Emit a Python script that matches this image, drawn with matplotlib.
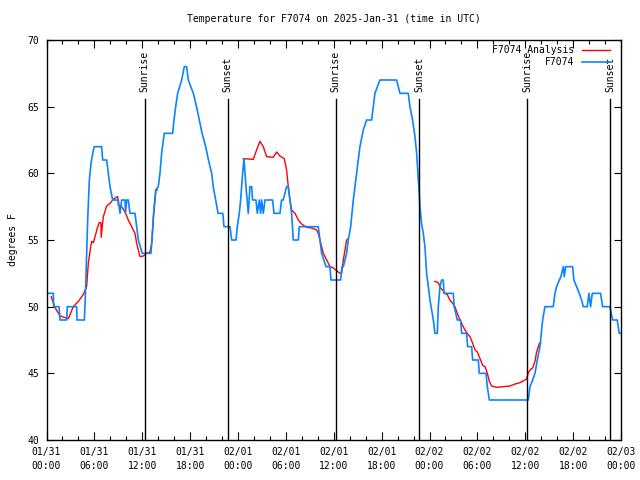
import matplotlib
matplotlib.use("Agg")
import matplotlib.pyplot as plt

plt.rcParams['font.family'] = ['DejaVu Sans Mono']
plt.rcParams['font.size'] = 7

# hours since 2025-01-31 00:00 UTC
obs_hours = [0.0, 0.86, 0.9, 1.57, 1.7, 2.53, 2.61, 3.78, 3.82, 4.74, 4.82, 4.91, 5.16, 5.37,
             5.58, 5.79, 5.99, 6.91, 7.04, 7.54, 7.75, 7.96, 8.29, 9.0, 9.21, 9.42, 9.84, 9.9,
             10.05, 10.25, 10.46, 11.09, 11.3, 11.51, 12.0, 13.09, 13.22, 13.39, 13.68, 14.01,
             14.22, 14.43, 14.76, 15.81, 15.98, 16.19, 16.44, 16.94, 17.27, 17.56, 17.77, 18.4,
             18.8, 19.15, 19.5, 19.95, 20.3, 20.7, 20.9, 21.2, 21.5, 22.1, 22.24, 23.0, 23.2,
             23.75, 23.91, 24.16, 24.33, 24.58, 24.75, 25.0, 25.29, 25.5, 25.71, 25.83, 26.25,
             26.42, 26.67, 26.84, 26.96, 27.17, 27.38, 28.34, 28.51, 29.26, 29.46, 29.67, 30.09,
             30.3, 30.51, 30.72, 30.93, 31.56, 31.68, 34.06, 34.27, 34.48, 35.03, 35.53, 35.65,
             36.86, 37.03, 37.2, 37.61, 37.82, 38.12, 38.45, 38.87, 39.28, 39.7, 40.12, 40.75,
             40.96, 41.16, 41.79, 43.88, 44.3, 45.34, 45.55, 45.88, 46.18, 46.39, 46.6, 46.72,
             46.8, 47.0, 47.22, 47.43, 47.64, 47.85, 48.06, 48.27, 48.48, 48.68, 48.98, 49.1,
             49.31, 49.52, 49.73, 49.81, 50.98, 51.1, 51.48, 51.9, 52.03, 52.65, 52.78, 53.28,
             53.41, 54.12, 54.24, 55.08, 55.25, 55.5, 60.38, 60.59, 60.93, 61.22, 61.51, 61.84,
             62.18, 62.47, 63.51, 63.72, 63.93, 64.27, 64.47, 64.77, 64.89, 65.06, 65.93, 66.1,
             66.43, 66.77, 67.06, 67.27, 67.77, 67.98, 68.19, 68.4, 69.44, 69.69, 70.61, 70.95,
             71.53, 71.78, 72.0]
obs_temps = [51, 51, 50, 50, 49, 49, 50, 50, 49, 49, 50, 51.5, 56.5, 59.5,
             60.75, 61.5, 62, 62, 61, 61, 60, 59, 58, 58, 57, 58, 58, 57,
             58, 58, 57, 57, 56, 55, 54, 54, 55, 56.75, 58.75, 59,
             60, 61.5, 63, 63, 64, 65, 66, 67, 68, 68, 67, 66,
             65, 64, 63, 62, 61, 60, 59, 58, 57, 57, 56, 56, 55,
             55, 56, 57, 58, 60, 61.1, 59, 57, 59, 59, 58, 58,
             57, 58, 57, 58, 57, 58, 58, 57, 57, 58, 58, 59,
             59, 58, 57, 55, 55, 56, 56, 55, 54, 53, 53, 52,
             52, 53, 53, 54, 55, 56, 58, 60, 62, 63.25, 64, 64,
             65, 66, 67, 67, 66, 66, 65, 64, 62.75, 61.5, 59.5, 58.5,
             57.5, 56.25, 55.5, 54.5, 52.5, 51.5, 50.5, 49.75, 49, 48, 48, 50,
             51.5, 52, 52, 51, 51, 50, 49, 49, 48, 48, 47, 47,
             46, 46, 45, 45, 44, 43, 43, 44, 44.5, 45, 46, 47,
             49, 50, 50, 51, 51.5, 52, 52.25, 53, 52.25, 53, 53, 52,
             51.5, 51, 50.5, 50, 50, 51, 50, 51, 51, 50, 50, 49,
             49, 48, 48]

ana1_hours = [0.6, 1.0, 1.7, 2.74, 3.36, 3.99, 4.6, 5.03, 5.24, 5.54, 5.66, 5.87, 6.08, 6.37,
              6.62, 6.83, 6.85, 7.12, 7.54, 7.96, 8.37, 8.71, 8.92, 9.0, 9.42, 9.84, 10.25,
              10.67, 11.09, 11.3, 11.51, 11.72, 12.13, 12.55, 12.97, 13.18, 13.3, 13.47, 13.64,
              13.72, 13.89]
ana1_temps = [50.75, 50, 49.3, 49.1, 50, 50.4, 50.9, 51.5, 53.25, 54.5, 54.9, 54.8, 55.25, 55.9,
              56.3, 56.3, 55.2, 56.75, 57.55, 57.75, 58.05, 58.2, 58.25, 57.6, 57.5, 57.1, 56.5,
              56, 55.5, 54.75, 54.25, 53.75, 53.8, 54, 54.1, 54.75, 55.75, 57.25, 58.25,
              58.75, 58.75]
ana2_hours = [24.66, 25.91, 26.33, 26.75, 27.17, 27.59, 28.42, 28.84, 29.26, 29.8, 30.09, 30.3,
              30.51, 30.72, 31.14, 31.56, 31.97, 32.6, 33.23, 33.85, 34.06, 34.27, 34.69, 35.11,
              35.53, 35.94, 36.36, 36.78, 36.99, 37.2, 37.41, 37.61, 37.82]
ana2_temps = [61.1, 61.05, 61.75, 62.4, 62.0, 61.25, 61.2, 61.6, 61.3, 61.1, 60.25, 59,
              58, 57.25, 57, 56.5, 56.2, 55.95, 55.9, 55.75, 55.5, 55, 54, 53.5,
              53, 52.9, 52.7, 52.5, 52.5, 53.5, 54.25, 55, 55.1]
ana3_hours = [48.68, 49.1, 49.39, 49.64, 49.94, 50.23, 50.56, 50.9, 51.19, 51.48, 51.82, 52.15,
              52.44, 52.86, 53.07, 53.41, 53.71, 54.0, 54.33, 54.66, 54.96, 55.25, 55.5, 55.79,
              56.42, 57.25, 58.09, 58.72, 59.34, 59.97, 60.18, 60.38, 60.68, 60.93, 61.22, 61.43,
              61.76, 61.93]
ana3_temps = [51.9, 51.8, 51.4, 51.25, 51, 50.9, 50.5, 50.25, 50, 49.5, 49, 48.6,
              48.25, 47.9, 47.75, 47.25, 46.75, 46.6, 46.1, 45.6, 45.5, 45, 44.4, 44.05,
              43.95, 44.0, 44.05, 44.2, 44.3, 44.5, 44.6, 45.05, 45.3, 45.4, 45.9, 46.6,
              47.25, 47.3]

sunrise = [12.3, 36.25, 60.25]
sunset = [22.7, 46.72, 70.67]

major_hours = list(range(0, 73, 6))
minor_hours = list(range(0, 73, 2))
major_labels = ["01/31\n00:00", "01/31\n06:00", "01/31\n12:00", "01/31\n18:00",
                "02/01\n00:00", "02/01\n06:00", "02/01\n12:00", "02/01\n18:00",
                "02/02\n00:00", "02/02\n06:00", "02/02\n12:00", "02/02\n18:00",
                "02/03\n00:00"]

fig = plt.figure(figsize=(6.4, 4.8), dpi=100)
ax = fig.add_axes([46.5 / 640, 40 / 480, 574.5 / 640, 400 / 480])

ax.plot(ana1_hours, ana1_temps, color='#ff0000', lw=1.0, label='F7074 Analysis')
ax.plot(ana2_hours, ana2_temps, color='#ff0000', lw=1.0)
ax.plot(ana3_hours, ana3_temps, color='#ff0000', lw=1.0)
ax.plot(obs_hours, obs_temps, color='#0a84ff', lw=1.2, label='F7074')

for h in sunrise:
    ax.plot([h, h], [40, 65.6], color='black', lw=1.0)
    ax.text(h, 66.1, 'Sunrise', rotation=90, ha='center', va='bottom')
for h in sunset:
    ax.plot([h, h], [40, 65.6], color='black', lw=1.0)
    ax.text(h, 66.1, 'Sunset', rotation=90, ha='center', va='bottom')

ax.set_xlim(0, 72)
ax.set_ylim(40, 70)
ax.set_xticks(major_hours)
ax.set_xticklabels(major_labels, linespacing=1.5)
ax.set_xticks(minor_hours, minor=True)
ax.set_yticks([40, 45, 50, 55, 60, 65, 70])
ax.tick_params(axis='x', which='major', direction='in', length=6, width=0.8,
               top=True, pad=5)
ax.tick_params(axis='x', which='minor', direction='in', length=3, width=0.8, top=True)
ax.tick_params(axis='y', direction='in', length=5, width=0.8, right=True, pad=5)
for s in ax.spines.values():
    s.set_linewidth(1.0)
ax.set_ylabel('degrees F', fontsize=7, labelpad=7)
ax.set_title('Temperature for F7074 on 2025-Jan-31 (time in UTC)', fontsize=7, pad=13)

leg = ax.legend(loc='upper right', bbox_to_anchor=(0.988, 0.996), frameon=False,
                markerfirst=False, handlelength=2.9, borderaxespad=0, borderpad=0.4,
                labelspacing=0.15, handletextpad=0.8)
for t in leg.get_texts():
    t.set_ha('right')

fig.savefig('out.png', dpi=100)
